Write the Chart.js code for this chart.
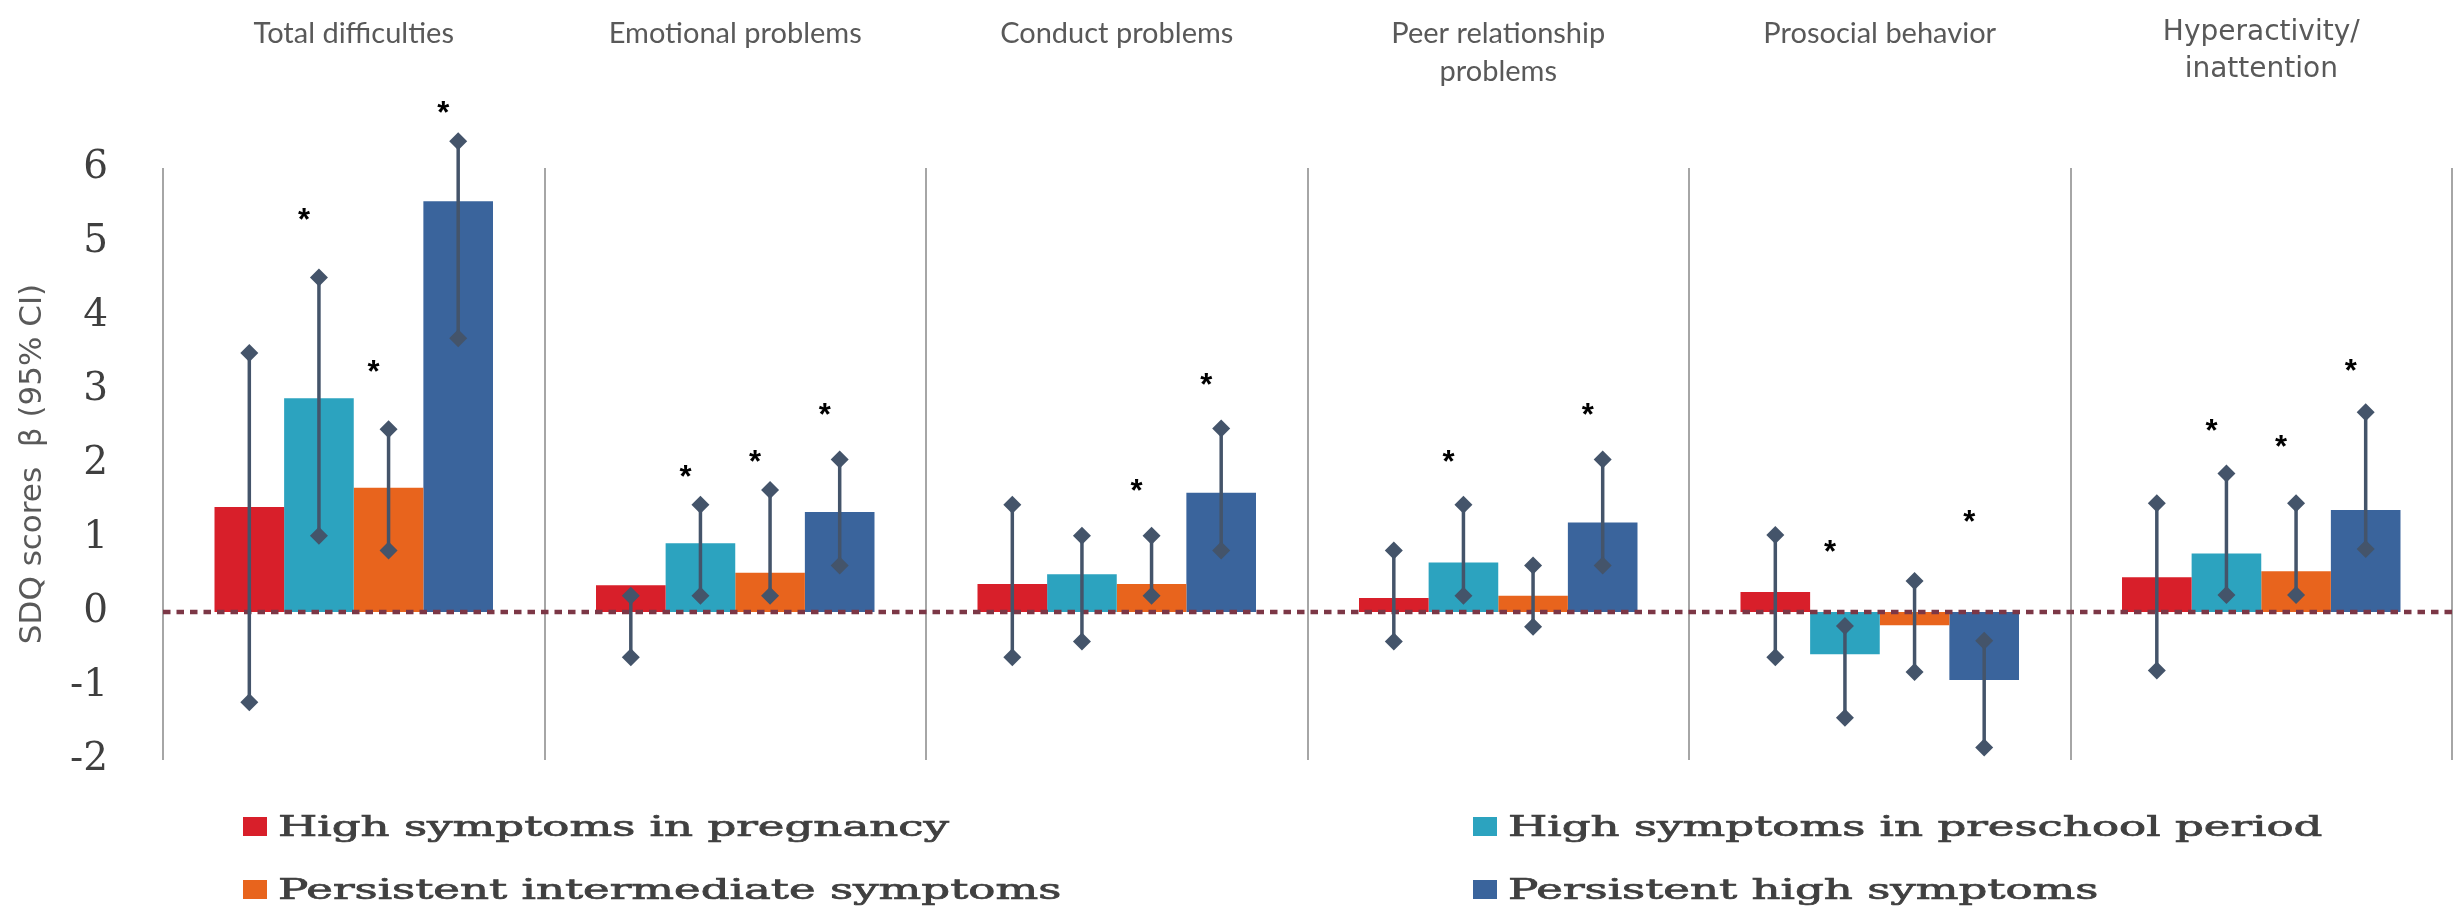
<!DOCTYPE html>
<html>
<head>
<meta charset="utf-8">
<script src="https://cdn.jsdelivr.net/npm/chart.js@4.4.0/dist/chart.umd.min.js"></script>
<style>
  html, body { margin: 0; padding: 0; background: #fff; }
  #wrap { width: 2460px; height: 911px; }
</style>
</head>
<body>
<div id="wrap"><canvas id="chart"></canvas></div>
<script>
// subscales (x categories)
const categories = ['Total difficulties', 'Emotional problems', 'Conduct problems',
  ['Peer relationship', 'problems'], 'Prosocial behavior', ['Hyperactivity/', 'inattention']];
const seriesNames = ['High symptoms in pregnancy', 'High symptoms in preschool period',
  'Persistent intermediate symptoms', 'Persistent high symptoms'];
const yTicks = [-2, -1, 0, 1, 2, 3, 4, 5, 6];

// beta estimates
const pregnancy    = [1.42, 0.36, 0.38, 0.19, 0.27, 0.47];
const preschool    = [2.89, 0.93, 0.51, 0.67, -0.57, 0.79];
const intermediate = [1.68, 0.53, 0.38, 0.22, -0.18, 0.55];
const persistent   = [5.55, 1.35, 1.61, 1.21, -0.92, 1.38];

// 95% CI bounds
const pregnancyLow     = [-1.22, -0.61, -0.61, -0.40, -0.61, -0.79];
const pregnancyHigh    = [3.50, 0.22, 1.45, 0.83, 1.04, 1.47];
const preschoolLow     = [1.03, 0.22, -0.40, 0.22, -1.43, 0.23];
const preschoolHigh    = [4.52, 1.45, 1.03, 1.45, -0.19, 1.87];
const intermediateLow  = [0.83, 0.22, 0.22, -0.20, -0.81, 0.23];
const intermediateHigh = [2.47, 1.65, 1.03, 0.63, 0.42, 1.47];
const persistentLow    = [3.70, 0.63, 0.83, 0.63, -1.83, 0.85];
const persistentHigh   = [6.36, 2.06, 2.48, 2.06, -0.39, 2.70];

// level of the significance star (null = not significant)
const pregnancyStar    = [null, null, null, null, null, null];
const preschoolStar    = [5.41, 1.93, null, 2.14, 0.92, 2.55];
const intermediateStar = [3.35, 2.14, 1.74, null, null, 2.34];
const persistentStar   = [6.85, 2.77, 3.17, 2.77, 1.32, 3.37];

const seriesValues = [pregnancy, preschool, intermediate, persistent];
const lows  = [pregnancyLow, preschoolLow, intermediateLow, persistentLow];
const highs = [pregnancyHigh, preschoolHigh, intermediateHigh, persistentHigh];
const stars = [pregnancyStar, preschoolStar, intermediateStar, persistentStar];

const colors = ['#D81F2A', '#2CA3BF', '#E8641D', '#3A649C'];
const errColor = '#44546A';

const overlay = {
  id: 'overlay',
  afterDatasetsDraw(chart) {
    const ctx = chart.ctx;
    const ys = chart.scales.y;
    const area = chart.chartArea;

    // dotted zero line
    const y0 = ys.getPixelForValue(0);
    ctx.save();
    ctx.strokeStyle = '#7C3746';
    ctx.lineWidth = 4.5;
    ctx.setLineDash([7.5, 6]);
    ctx.beginPath();
    ctx.moveTo(area.left, y0);
    ctx.lineTo(area.right, y0);
    ctx.stroke();
    ctx.restore();

    // error bars with diamond caps
    ctx.save();
    ctx.strokeStyle = errColor;
    ctx.fillStyle = errColor;
    ctx.lineWidth = 3.5;
    const diamond = (x, y) => {
      ctx.beginPath();
      ctx.moveTo(x, y - 9);
      ctx.lineTo(x + 9, y);
      ctx.lineTo(x, y + 9);
      ctx.lineTo(x - 9, y);
      ctx.closePath();
      ctx.fill();
    };
    lows.forEach((lo, i) => {
      const meta = chart.getDatasetMeta(i);
      lo.forEach((v, j) => {
        const x = meta.data[j].x;
        const yl = ys.getPixelForValue(v);
        const yh = ys.getPixelForValue(highs[i][j]);
        ctx.beginPath();
        ctx.moveTo(x, yl);
        ctx.lineTo(x, yh);
        ctx.stroke();
        diamond(x, yl);
        diamond(x, yh);
      });
    });

    // significance stars
    ctx.fillStyle = '#000';
    ctx.font = 'bold 31px "Liberation Sans"';
    ctx.textAlign = 'center';
    ctx.textBaseline = 'alphabetic';
    stars.forEach((s, i) => {
      const meta = chart.getDatasetMeta(i);
      s.forEach((v, j) => {
        if (v === null) return;
        ctx.fillText('*', meta.data[j].x - 15, ys.getPixelForValue(v) + 18);
      });
    });
    ctx.restore();
  },
  afterDraw(chart) {
    // wide two-column legend under the plot
    const ctx = chart.ctx;
    const colX = [243, 1473];
    const rowBase = [836, 899];
    ctx.save();
    ctx.font = '27px "DejaVu Serif"';
    const sx = 671 / ctx.measureText(seriesNames[0]).width;
    chart.data.datasets.forEach((ds, k) => {
      const x = colX[k % 2];
      const b = rowBase[Math.floor(k / 2)];
      ctx.fillStyle = ds.backgroundColor;
      ctx.fillRect(x, b - 19, 24, 19);
      ctx.save();
      ctx.translate(x + 35, b);
      ctx.scale(sx, 1);
      ctx.fillStyle = '#404040';
      ctx.strokeStyle = '#404040';
      ctx.lineWidth = 0.7;
      ctx.textAlign = 'left';
      ctx.textBaseline = 'alphabetic';
      ctx.fillText(ds.label, 0, 0);
      ctx.strokeText(ds.label, 0, 0);
      ctx.restore();
    });
    ctx.restore();
  }
};

new Chart(document.getElementById('chart'), {
  type: 'bar',
  data: {
    labels: categories,
    datasets: seriesValues.map((vals, i) => ({
      label: seriesNames[i],
      data: vals,
      backgroundColor: colors[i],
      borderWidth: 0,
      categoryPercentage: 0.73,
      barPercentage: 1.0
    }))
  },
  options: {
    responsive: true,
    maintainAspectRatio: false,
    animation: false,
    layout: { padding: { left: 0, right: 8, top: 0, bottom: 151 } },
    plugins: {
      legend: { display: false },
      tooltip: { enabled: false }
    },
    scales: {
      x: {
        position: 'top',
        grid: { color: '#A6A6A6', lineWidth: 2, drawTicks: false, offset: true },
        border: { display: false },
        ticks: {
          maxRotation: 0,
          autoSkip: false,
          crossAlign: 'far',
          padding: 78,
          color: '#595959',
          font: (c) => c.index === 5
            ? { family: 'DejaVu Sans', size: 28, lineHeight: 1.32 }
            : { family: 'Lato', size: 29, lineHeight: 1.3 }
        },
        afterFit(s) { s.height = 168; }
      },
      y: {
        min: yTicks[0],
        max: yTicks[yTicks.length - 1],
        grid: { display: false, drawTicks: false },
        border: { display: false },
        ticks: {
          stepSize: 1,
          padding: 55,
          color: '#3F3F3F',
          font: { family: 'DejaVu Serif', size: 39 }
        },
        title: {
          display: true,
          text: 'SDQ scores  β (95% CI)',
          color: '#595959',
          font: { family: 'DejaVu Sans', size: 31 },
          padding: { top: 14, bottom: 0 }
        },
        afterFit(s) { s.width = 163; }
      }
    }
  },
  plugins: [overlay]
});
</script>
</body>
</html>
